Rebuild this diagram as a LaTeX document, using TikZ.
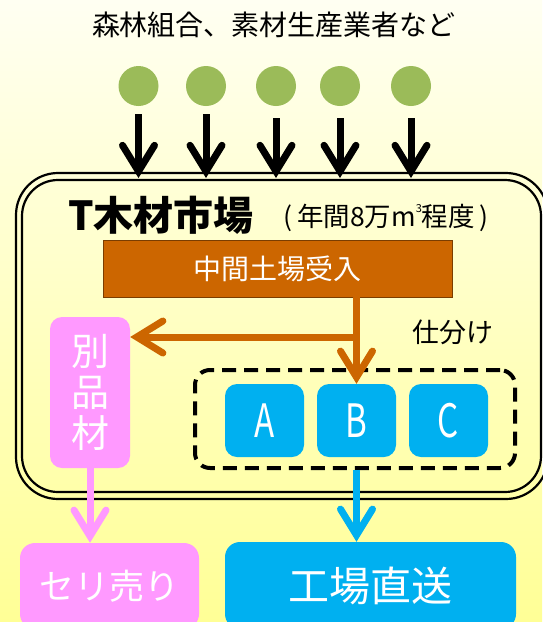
\documentclass[tikz,border=0pt]{standalone}
\usepackage{fontspec}
\usepackage{graphicx}
\setmainfont{Noto Sans CJK JP}
\usetikzlibrary{arrows.meta}
\definecolor{bgtop}{HTML}{FFFFF2}
\definecolor{bgbot}{HTML}{FFFF96}
\definecolor{leaf}{HTML}{9BBB59}
\definecolor{rust}{HTML}{CC6600}
\definecolor{rustdark}{HTML}{7A3D00}
\definecolor{pinkbox}{HTML}{FF99FF}
\definecolor{bluebox}{HTML}{00B0F0}
\begin{document}
\begin{tikzpicture}[x=1pt,y=-1pt,
  barb/.style={-{Straight Barb[length=26pt,width=32pt,line width=7pt,line cap=round,line join=miter]}},
  flow/.style={line width=7pt,barb},
  dot/.style={circle,fill=leaf,minimum size=40pt,inner sep=0pt},
  abc/.style={rounded corners=12pt,fill=bluebox,minimum width=79pt,minimum height=73pt,inner sep=0pt,text=white,font=\fontsize{46}{50}\selectfont},
  endbox/.style={rounded corners=15pt,inner sep=0pt,text=white},
  frameline/.style={line width=2.2pt,rounded corners=#1}
]
\useasboundingbox (0,0) rectangle (542,622);
\shade[top color=bgtop,bottom color=bgbot] (0,0) rectangle (542,622);

% title
\node (title) at (274,25) {\fontsize{28}{30}\selectfont 森林組合、素材生産業者など};

% source dots
\node[dot] (c1) at (138.5,86) {};
\node[dot] (c2) at (206,86) {};
\node[dot] (c3) at (276,86) {};
\node[dot] (c4) at (340,86) {};
\node[dot] (c5) at (411,86) {};

% market frame (double line)
\draw[frameline=42pt] (16,173) rectangle (548,499);
\draw[frameline=36pt] (22,180) rectangle (541,492);

\coordinate (t1) at (138.5,178);
\coordinate (t2) at (206,178);
\coordinate (t3) at (276,178);
\coordinate (t4) at (340,178);
\coordinate (t5) at (411,178);
\draw[flow,black,shorten <=8pt] (c1.south) -- (t1);
\draw[flow,black,shorten <=8pt] (c2.south) -- (t2);
\draw[flow,black,shorten <=12pt] (c3.south) -- (t3);
\draw[flow,black,shorten <=12pt] (c4.south) -- (t4);
\draw[flow,black,shorten <=12pt] (c5.south) -- (t5);

% market title
\node (mkt) at (161,215) {\fontsize{40}{44}\selectfont\bfseries T木材市場};
\node (vol) at (386,218) {\fontsize{26.5}{29}\selectfont (\,年間8万m\raisebox{0.55em}{\fontsize{11}{12}\selectfont 3}程度\,)};

% intermediate yard
\node[fill=rust,draw=rustdark,line width=0.8pt,minimum width=349pt,minimum height=57pt,inner sep=0pt,text=white] (uke) at (277.5,268.5) {\fontsize{28}{30}\selectfont 中間土場受入};

% other material
\node[rounded corners=12pt,fill=pinkbox,minimum width=80pt,minimum height=151pt,inner sep=0pt,text=white,align=center,font=\fontsize{38}{41}\selectfont] (betsu) at (90,392.5) {別\\品\\材};

% sorting group
\node[draw=black,line width=4pt,dash pattern=on 14pt off 8pt,rounded corners=15pt,minimum width=320pt,minimum height=98pt,inner sep=0pt] (grp) at (355,419) {};
\node[abc] (A) at (264.5,420.5) {\scalebox{0.72}[1]{A}};
\node[abc] (B) at (356.5,420.5) {\scalebox{0.72}[1]{B}};
\node[abc] (C) at (448.5,420.5) {\scalebox{0.72}[1]{C}};

\node (shiwake) at (453,332) {\fontsize{27}{30}\selectfont 仕分け};

% brown sorting arrows
\coordinate (split) at (356.5,337);
\draw[line width=7pt,rust] (B.north |- uke.south) -- (split);
\draw[flow,rust] (split) -- (betsu.east |- split);
\draw[flow,rust] (split) -- (B.north);

% outputs
\node[endbox,fill=pinkbox,minimum width=179pt,minimum height=86pt] (seri) at (109.5,586) {\fontsize{35}{38}\selectfont セリ売り};
\node[endbox,fill=bluebox,minimum width=291pt,minimum height=87pt] (kojo) at (370.5,585.5) {\fontsize{41}{44}\selectfont 工場直送};

\draw[flow,pinkbox] (betsu.south) -- (betsu.south |- seri.north);
\draw[flow,bluebox] (B.south |- grp.south) -- (B.south |- kojo.north);
\end{tikzpicture}
\end{document}
